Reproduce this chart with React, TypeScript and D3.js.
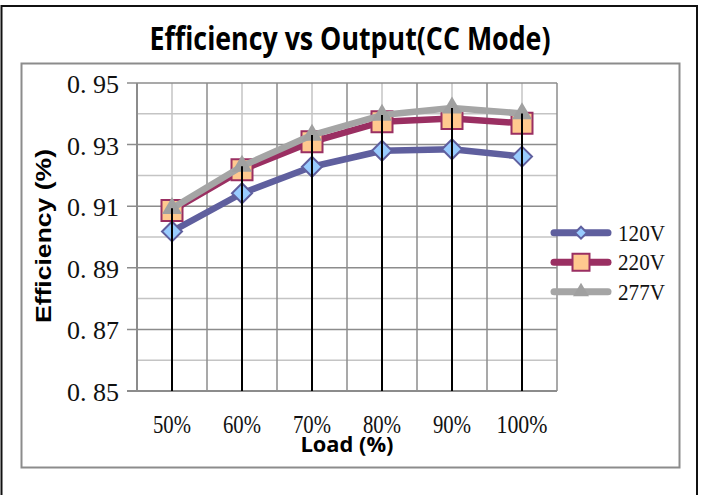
import React from "react";
import * as d3 from "d3";

const categories = ["50%", "60%", "70%", "80%", "90%", "100%"];
const seriesNames = ["120V", "220V", "277V"];
const v120 = [0.9018, 0.9142, 0.9228, 0.928, 0.9285, 0.9261];
const v220 = [0.9086, 0.9218, 0.9309, 0.9374, 0.9385, 0.9369];
const v277 = [0.9093, 0.923, 0.9331, 0.9396, 0.9419, 0.9401];
const yTickValues = [0.85, 0.87, 0.89, 0.91, 0.93, 0.95];
const yTickLabels = ["0. 85", "0. 87", "0. 89", "0. 91", "0. 93", "0. 95"];
const yMinorValues = [0.86, 0.88, 0.9, 0.92, 0.94];

const W = 704;
const H = 495;
const plot = { left: 137, right: 557, top: 83, bottom: 391 };

const lineColors = ["#5F5F9E", "#9A2F62", "#A5A5A5"];
const markerFills = ["#99CCFF", "#FFC98F", "#A0A0A0"];
const markerStrokes = ["#5F5F9E", "#9A2F62", "#A0A0A0"];

function markerPath(kind: number, cx: number, cy: number, s: number): string {
  if (kind === 0) {
    const r = s / 2;
    return `M${cx},${cy - r}L${cx + r},${cy}L${cx},${cy + r}L${cx - r},${cy}Z`;
  }
  if (kind === 1) {
    const r = s / 2;
    return `M${cx - r},${cy - r}H${cx + r}V${cy + r}H${cx - r}Z`;
  }
  const h = s * 0.85;
  return `M${cx},${cy - (2 * h) / 3}L${cx + s / 2},${cy + h / 3}L${cx - s / 2},${cy + h / 3}Z`;
}

export default function App() {
  const x = d3.scaleBand<string>().domain(categories).range([plot.left, plot.right]).padding(0);
  const y = d3.scaleLinear().domain([0.85, 0.95]).range([plot.bottom, plot.top]);
  const bw = x.bandwidth();
  const cx = (c: string) => (x(c) as number) + bw / 2;
  const series = [v120, v220, v277];
  const line = d3
    .line<number>()
    .x((_, i) => cx(categories[i]))
    .y((d) => y(d));

  const boundaries = [...categories.map((c) => x(c) as number), plot.right];
  const markerSizes = [20, 21, 20];
  const legendY = [232.7, 262.3, 291.7];
  const legendMarkerSizes = [12, 17, 16];

  return (
    <svg
      width={W}
      height={H}
      viewBox={`0 0 ${W} ${H}`}
      style={{ position: "absolute", left: 0, top: 0, background: "#fff" }}
    >
      <rect x={0} y={0} width={W} height={H} fill="#fff" />
      {/* outer black frame */}
      <rect x={1.5} y={6} width={695.5} height={500} fill="none" stroke="#111" strokeWidth={2} />
      {/* inner gray frame */}
      <rect x={21.5} y={63.5} width={658} height={404} fill="#fff" stroke="#8c8c8c" strokeWidth={2} />

      {/* title */}
      <text
        x={350}
        y={49.5}
        textAnchor="middle"
        fontFamily="'Open Sans', sans-serif"
        fontWeight="bold"
        fontSize={32}
        textLength={401}
        lengthAdjust="spacingAndGlyphs"
        fill="#000"
      >
        Efficiency vs Output(CC Mode)
      </text>

      {/* minor horizontal grid */}
      {yMinorValues.map((v) => (
        <line key={"hm" + v} x1={plot.left} x2={plot.right} y1={y(v)} y2={y(v)} stroke="#c4c4c4" strokeWidth={1.5} />
      ))}
      {/* vertical center grid (light) */}
      {categories.map((c) => (
        <line key={"vc" + c} x1={cx(c)} x2={cx(c)} y1={plot.top} y2={plot.bottom} stroke="#c4c4c4" strokeWidth={1.5} />
      ))}
      {/* major horizontal grid */}
      {yTickValues.map((v) => (
        <line key={"hM" + v} x1={plot.left - 10} x2={plot.right} y1={y(v)} y2={y(v)} stroke="#8c8c8c" strokeWidth={1.5} />
      ))}
      {/* vertical boundary grid (dark) */}
      {boundaries.map((b, i) => (
        <line key={"vb" + i} x1={b} x2={b} y1={plot.top} y2={plot.bottom} stroke="#8c8c8c" strokeWidth={1.5} />
      ))}
      {/* axis lines */}
      <line x1={plot.left} x2={plot.left} y1={plot.top} y2={plot.bottom} stroke="#8c8c8c" strokeWidth={2} />
      <line x1={plot.left - 10} x2={plot.right} y1={plot.bottom} y2={plot.bottom} stroke="#8c8c8c" strokeWidth={2} />

      {/* y tick labels */}
      {yTickValues.map((v, i) => (
        <text
          key={"yl" + v}
          x={119}
          y={y(v) + 10}
          textAnchor="end"
          fontFamily="'Liberation Serif', serif"
          fontSize={26}
          textLength={52}
          lengthAdjust="spacingAndGlyphs"
          fill="#111"
        >
          {yTickLabels[i]}
        </text>
      ))}

      {/* x tick labels */}
      {categories.map((c) => (
        <text
          key={"xl" + c}
          x={cx(c)}
          y={433}
          textAnchor="middle"
          fontFamily="'Liberation Serif', serif"
          fontSize={25}
          textLength={c.length === 4 ? 51 : 38}
          lengthAdjust="spacingAndGlyphs"
          fill="#111"
        >
          {c}
        </text>
      ))}

      {/* axis titles */}
      <text
        x={347}
        y={452}
        textAnchor="middle"
        fontFamily="'Open Sans', sans-serif"
        fontWeight="bold"
        fontSize={22}
        textLength={93}
        lengthAdjust="spacingAndGlyphs"
        fill="#000"
      >
        Load (%)
      </text>
      <text
        transform={`translate(51,236) rotate(-90)`}
        textAnchor="middle"
        fontFamily="'Liberation Sans', Arial, sans-serif"
        fontWeight="bold"
        fontSize={22}
        textLength={174}
        lengthAdjust="spacingAndGlyphs"
        fill="#000"
      >
        Efficiency (%)
      </text>

      {/* series lines and markers */}
      {series.map((vals, si) => (
        <g key={"s" + si}>
          <path
            d={line(vals) as string}
            fill="none"
            stroke={lineColors[si]}
            strokeWidth={6.5}
            strokeLinejoin="round"
            strokeLinecap="round"
          />
          {vals.map((v, i) => (
            <path
              key={"m" + i}
              d={markerPath(si, cx(categories[i]), y(v), markerSizes[si])}
              fill={markerFills[si]}
              stroke={markerStrokes[si]}
              strokeWidth={si === 2 ? 0 : 2}
            />
          ))}
        </g>
      ))}

      {/* drop lines */}
      {categories.map((c, i) => {
        const top = Math.max(v120[i], v220[i], v277[i]);
        return (
          <line key={"dl" + c} x1={cx(c)} x2={cx(c)} y1={y(top)} y2={plot.bottom} stroke="#000" strokeWidth={2} />
        );
      })}

      {/* legend */}
      {seriesNames.map((name, si) => (
        <g key={"lg" + si}>
          <line
            x1={554}
            x2={608}
            y1={legendY[si]}
            y2={legendY[si]}
            stroke={lineColors[si]}
            strokeWidth={7}
            strokeLinecap="round"
          />
          <path
            d={markerPath(si, 581, legendY[si], legendMarkerSizes[si])}
            fill={markerFills[si]}
            stroke={markerStrokes[si]}
            strokeWidth={si === 2 ? 0 : 2}
          />
          <text
            x={618}
            y={legendY[si] + 8}
            fontFamily="'Liberation Serif', serif"
            fontSize={24}
            textLength={47}
            lengthAdjust="spacingAndGlyphs"
            fill="#111"
          >
            {name}
          </text>
        </g>
      ))}
    </svg>
  );
}
